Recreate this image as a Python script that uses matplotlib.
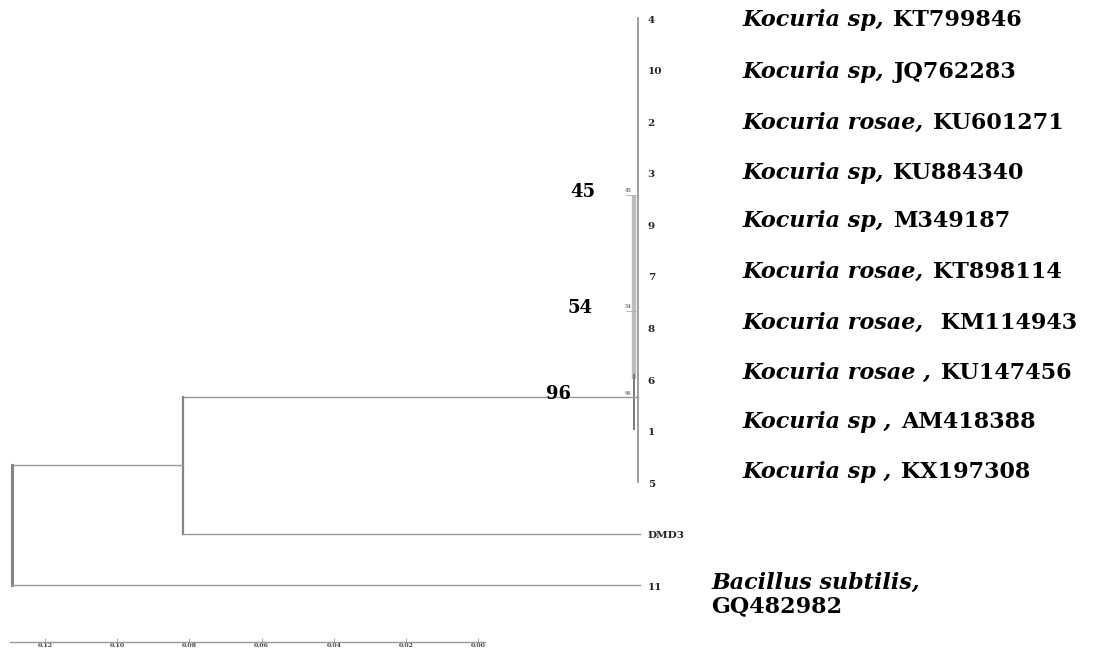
import matplotlib.pyplot as plt
import numpy as np

plt.rcParams['font.family'] = 'DejaVu Serif'
plt.rcParams['font.weight'] = 'bold'

# leaves, top to bottom
leaf_ids = ['4', '10', '2', '3', '9', '7', '8', '6', '1', '5', 'DMD3', '11']
species = ['Kocuria sp,', 'Kocuria sp,', 'Kocuria rosae,', 'Kocuria sp,', 'Kocuria sp,',
           'Kocuria rosae,', 'Kocuria rosae,', 'Kocuria rosae ,', 'Kocuria sp ,', 'Kocuria sp ,',
           None, 'Bacillus subtilis,']
accessions = ['KT799846', 'JQ762283', 'KU601271', 'KU884340', 'M349187',
              'KT898114', ' KM114943', 'KU147456', 'AM418388', 'KX197308',
              None, 'GQ482982']

# branch depths (distance from the tips)
root_depth = 0.1735
ingroup_depth = 0.126
kocuria_depth = 0.0
inner_depth = 0.0010

# bootstrap support inside the Kocuria clade
boot_vals = [45, 54, 96]
boot_rows = [3.43, 5.68, 7.35]
boot_depth = [0.0033, 0.0033, 0.0033]

# scale bar
scale_ticks = [0.12, 0.10, 0.08, 0.06, 0.04, 0.02, 0.00]

# vertical placement of the name column (in row units)
label_rows = [0.04, 1.05, 2.04, 3.01, 3.94, 4.93, 5.92, 6.89, 7.84, 8.81, None, 10.96]

W, H = 1118, 652
fig = plt.figure(figsize=(W / 100, H / 100), dpi=100)
ax = fig.add_axes([0, 0, 1, 1])
px_per_unit = 3608
tip_px, row0_px, row_px = 638, 18, 51.56
ax.set_xlim(tip_px / px_per_unit, -(W - tip_px) / px_per_unit)
ax.set_ylim((H - row0_px) / row_px, -row0_px / row_px)
ax.axis('off')

lc = '#999999'
n_k = 10
rows = np.arange(len(leaf_ids))

# Kocuria clade: all tips at zero length
ax.plot([kocuria_depth, kocuria_depth], [rows[0], rows[n_k - 1]], color=lc, lw=1.3)
ax.plot([inner_depth, inner_depth], [boot_rows[0], rows[7]], color='#bdbdbd', lw=3.2,
        solid_capstyle='butt')
ax.plot([inner_depth, inner_depth], [6.9, 8.0], color='#7a7a7a', lw=1.4,
        solid_capstyle='butt')
for d, r in zip(boot_depth, boot_rows):
    ax.plot([d, kocuria_depth], [r, r], color='#b0b0b0', lw=0.6)

# ingroup node joining Kocuria and DMD3
clade_row = boot_rows[2]
ax.plot([ingroup_depth, kocuria_depth], [clade_row, clade_row], color=lc, lw=1.0)
ax.plot([ingroup_depth, ingroup_depth], [clade_row, rows[10]], color='#858585', lw=1.6)
ax.plot([ingroup_depth, -0.0005], [rows[10], rows[10]], color=lc, lw=1.0)

# root
root_row = (clade_row + rows[10]) / 2
ax.plot([root_depth, ingroup_depth], [root_row, root_row], color=lc, lw=1.0)
ax.plot([root_depth, root_depth], [root_row, rows[11]], color='#858585', lw=2.2)
ax.plot([root_depth, -0.0005], [rows[11], rows[11]], color=lc, lw=1.0)

# leaf numbers
for r, lid in zip(rows, leaf_ids):
    ax.annotate(lid, (0, r), xytext=(7, -1.5), textcoords='offset points',
                ha='left', va='center', fontsize=7.5, color='#222222')

# species labels: italic name, upright accession
fs = 16
for lr, sp, acc in zip(label_rows, species, accessions):
    if sp is None:
        continue
    if sp.startswith('Bacillus'):
        ax.annotate(sp, (0, lr), xytext=(53, 0), textcoords='offset points',
                    ha='left', va='center', fontsize=fs, fontstyle='italic')
        ax.annotate(acc, (0, lr), xytext=(53, -16.5), textcoords='offset points',
                    ha='left', va='center', fontsize=fs)
        continue
    t1 = ax.annotate(sp, (0, lr), xytext=(75, 0), textcoords='offset points',
                     ha='left', va='center', fontsize=fs, fontstyle='italic')
    ax.annotate(acc, (1, 0), xycoords=t1, xytext=(7, 0), textcoords='offset points',
                ha='left', va='bottom', fontsize=fs)

# bootstrap values
big_offsets = [-22, -24, -40]
for v, r, d, off in zip(boot_vals, boot_rows, boot_depth, big_offsets):
    ax.annotate(str(v), (d, r), xytext=(off, 2), textcoords='offset points',
                ha='right', va='center', fontsize=13)
    ax.annotate(str(v), (d, r), xytext=(-1, 1), textcoords='offset points',
                ha='left', va='bottom', fontsize=3.5, color='#777777')

# scale bar
sx0, sx1, sy = 10, 485, 642
sax = fig.add_axes([sx0 / W, (H - sy) / H, (sx1 - sx0) / W, 0.001])
sax.set_xlim(0.1297, -0.0019)
sax.set_xticks(scale_ticks)
sax.set_xticklabels(['%.2f' % t for t in scale_ticks])
sax.set_yticks([])
for s in ['top', 'left', 'right']:
    sax.spines[s].set_visible(False)
sax.spines['bottom'].set_color(lc)
sax.spines['bottom'].set_linewidth(1.0)
sax.tick_params(axis='x', direction='in', length=3, width=0.6, color=lc,
                labelsize=4.5, pad=1, labelcolor='#444444')
sax.patch.set_visible(False)

fig.savefig('out.png', dpi=100)
